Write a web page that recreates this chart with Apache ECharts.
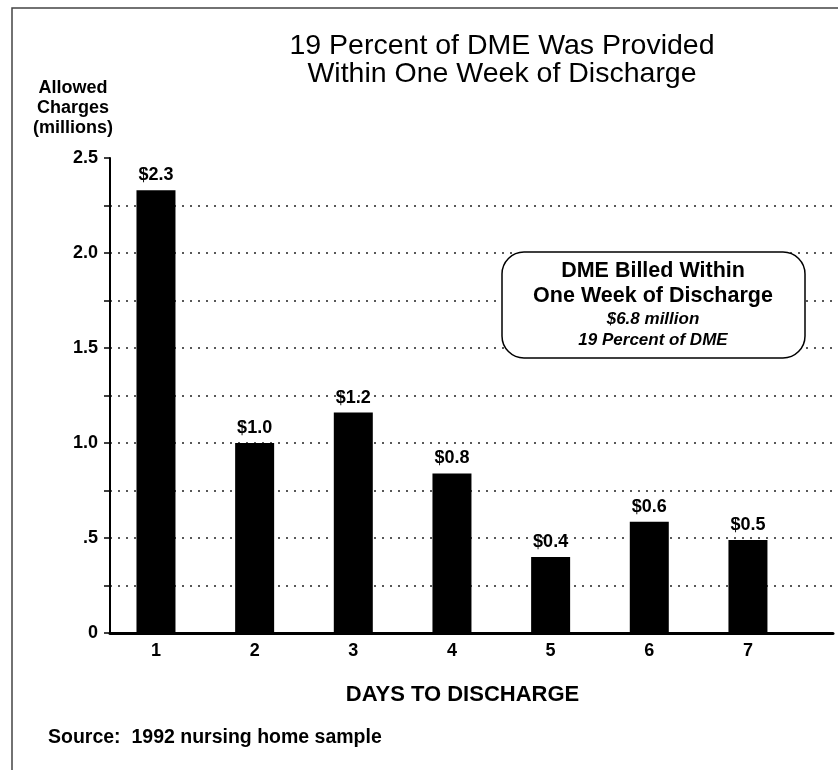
<!DOCTYPE html>
<html>
<head>
<meta charset="utf-8">
<script src="https://cdn.jsdelivr.net/npm/echarts@6/dist/echarts.min.js"></script>
<style>
html,body{margin:0;padding:0;background:#fff;}
#chart{width:838px;height:770px;}
</style>
</head>
<body>
<div id="chart"></div>
<script>
// ---- data ----
var days = [1, 2, 3, 4, 5, 6, 7];
var charges = [2.33, 1.0, 1.16, 0.84, 0.40, 0.585, 0.49];
var chargeLabels = ['$2.3', '$1.0', '$1.2', '$0.8', '$0.4', '$0.6', '$0.5'];
var yTickValues = [0, 0.5, 1.0, 1.5, 2.0, 2.5];
var yTickLabels = ['0', '.5', '1.0', '1.5', '2.0', '2.5'];
var titleLines = ['19 Percent of DME Was Provided', 'Within One Week of Discharge'];
var yAxisNameLines = ['Allowed', 'Charges', '(millions)'];
var xAxisName = 'DAYS TO DISCHARGE';
var boxLines = ['DME Billed Within', 'One Week of Discharge', '$6.8 million', '19 Percent of DME'];
var sourceText = 'Source:  1992 nursing home sample';

var FONT = "'Liberation Sans', Arial, Helvetica, sans-serif";

var barData = days.map(function (d, i) { return [d, charges[i]]; });

var chart = echarts.init(document.getElementById('chart'), null, {renderer: 'canvas'});

function boxText(txt, y, font) {
  return {
    type: 'text', z: 101,
    style: {text: txt, x: 653, y: y, align: 'center', verticalAlign: 'middle',
            textAlign: 'center', textVerticalAlign: 'middle', font: font, fill: '#000'}
  };
}

var option = {
  backgroundColor: '#ffffff',
  animation: false,
  title: [
    {
      text: titleLines.join('\n'),
      left: 502, top: 32, padding: 0,
      textAlign: 'center',
      textStyle: {fontFamily: FONT, fontSize: 28.5, fontWeight: 'normal', color: '#000', lineHeight: 28}
    },
    {
      text: yAxisNameLines.join('\n'),
      left: 73, top: 78, padding: 0,
      textAlign: 'center',
      textStyle: {fontFamily: FONT, fontSize: 18, fontWeight: 'bold', color: '#000', lineHeight: 20}
    },
    {
      text: sourceText,
      left: 48, top: 728, padding: 0,
      textStyle: {fontFamily: FONT, fontSize: 19.5, fontWeight: 'bold', color: '#000'}
    }
  ],
  grid: {left: 110, right: 5, top: 158, bottom: 137, containLabel: false},
  xAxis: {
    type: 'value',
    min: 0.534, max: 7.862,
    name: xAxisName,
    nameLocation: 'middle',
    nameGap: 51,
    nameTextStyle: {fontFamily: FONT, fontSize: 22, fontWeight: 'bold', color: '#000', padding: [0, 18, 0, 0]},
    axisLine: {show: true, onZero: false, lineStyle: {color: '#000', width: 3}},
    axisTick: {show: false},
    splitLine: {show: false},
    axisLabel: {
      customValues: days,
      margin: 9,
      fontFamily: FONT, fontSize: 18, fontWeight: 'bold', color: '#000',
      formatter: function (v) { return String(v); }
    }
  },
  yAxis: {
    type: 'value',
    min: 0, max: 2.5, interval: 0.25,
    axisLine: {show: true, lineStyle: {color: '#000', width: 2}},
    axisTick: {show: true, inside: false, length: 6, lineStyle: {color: '#000', width: 1.5}},
    axisLabel: {
      margin: 12,
      fontFamily: FONT, fontSize: 18, fontWeight: 'bold', color: '#000',
      formatter: function (v) {
        for (var i = 0; i < yTickValues.length; i++) {
          if (Math.abs(yTickValues[i] - v) < 1e-6) return yTickLabels[i];
        }
        return '';
      }
    },
    splitLine: {
      show: true, showMinLine: false, showMaxLine: false,
      lineStyle: {color: '#222', width: 1.5, type: [2, 6]}
    }
  },
  graphic: [
    {
      type: 'rect', z: 100,
      shape: {x: 12, y: 8, width: 840, height: 780},
      style: {fill: 'none', stroke: '#444', lineWidth: 1.5}
    },
    {
      type: 'rect', z: 100,
      shape: {x: 502, y: 252, width: 303, height: 106, r: 22},
      style: {fill: '#fff', stroke: '#000', lineWidth: 1.5}
    },
    boxText(boxLines[0], 271, "bold 21.5px " + FONT),
    boxText(boxLines[1], 296, "bold 21.5px " + FONT),
    boxText(boxLines[2], 319, "italic bold 17px " + FONT),
    boxText(boxLines[3], 340, "italic bold 17px " + FONT)
  ],
  series: [
    {
      type: 'bar',
      data: barData,
      barWidth: 39,
      itemStyle: {color: '#000'},
      label: {
        show: true, position: 'top', distance: 6,
        fontFamily: FONT, fontSize: 18, fontWeight: 'bold', color: '#000',
        formatter: function (p) { return chargeLabels[p.dataIndex]; }
      }
    }
  ]
};
chart.setOption(option);
</script>
</body>
</html>
